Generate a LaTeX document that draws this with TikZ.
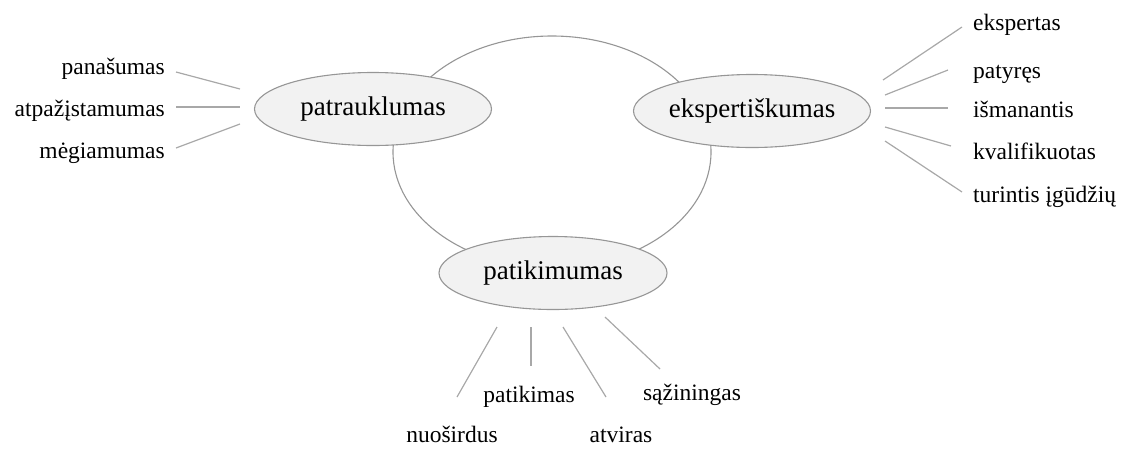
\documentclass[tikz,border=0pt]{standalone}
\usepackage{fontspec}
\setmainfont{Liberation Serif}
\usepackage{tikz}
\usetikzlibrary{shapes.geometric}

\definecolor{nodefill}{RGB}{242,242,242}
\definecolor{nodeline}{RGB}{150,150,150}
\definecolor{spokeline}{RGB}{168,168,168}

\begin{document}
\begin{tikzpicture}[
  x=1pt, y=-1pt,
  concept/.style={ellipse, draw=nodeline, fill=nodefill, line width=1.1pt,
    minimum width=237pt, minimum height=73pt, inner sep=0pt,
    font=\fontsize{27}{32}\selectfont},
  ring/.style={ellipse, draw=nodeline, line width=1.1pt,
    minimum width=318pt, minimum height=232pt, inner sep=0pt},
  trait/.style={inner sep=0pt, font=\fontsize{23.5}{28}\selectfont},
  spoke/.style={draw=spokeline, line width=1.2pt}
]
  \useasboundingbox (0,0) rectangle (1126,448);

  % Ring joining the three concepts
  \node[ring] (ring) at (552,152) {};

  % Concepts
  \node[concept] (patr) at (373,109) {patrauklumas};
  \node[concept] (eksp) at (752,111) {ekspertiškumas};
  \node[concept, minimum width=228pt] (pati) at (553,273) {patikimumas};

  % Traits of patrauklumas
  \node[trait, anchor=base east] (pan) at (165,74) {panašumas};
  \node[trait, anchor=base east] (atp) at (165,116) {atpažįstamumas};
  \node[trait, anchor=base east] (meg) at (165,158) {mėgiamumas};
  \coordinate (pan-a) at (176,72);  \coordinate (pan-b) at (240,89);
  \coordinate (atp-a) at (176,107); \coordinate (atp-b) at (240,107);
  \coordinate (meg-a) at (176,148); \coordinate (meg-b) at (240,124);
  \draw[spoke] (pan-a) -- (pan-b);
  \draw[spoke] (atp-a) -- (atp-b);
  \draw[spoke] (meg-a) -- (meg-b);

  % Traits of ekspertiskumas
  \node[trait, anchor=base west] (eks) at (973,30) {ekspertas};
  \node[trait, anchor=base west] (pat) at (973,78) {patyręs};
  \node[trait, anchor=base west] (ism) at (973,117) {išmanantis};
  \node[trait, anchor=base west] (kva) at (973,159) {kvalifikuotas};
  \node[trait, anchor=base west] (tur) at (973,202) {turintis įgūdžių};
  \coordinate (eks-a) at (883,80);  \coordinate (eks-b) at (962,27);
  \coordinate (pat-a) at (885,95);  \coordinate (pat-b) at (948,70);
  \coordinate (ism-a) at (885,108); \coordinate (ism-b) at (948,108);
  \coordinate (kva-a) at (885,127); \coordinate (kva-b) at (951,146);
  \coordinate (tur-a) at (885,141); \coordinate (tur-b) at (962,192);
  \draw[spoke] (eks-a) -- (eks-b);
  \draw[spoke] (pat-a) -- (pat-b);
  \draw[spoke] (ism-a) -- (ism-b);
  \draw[spoke] (kva-a) -- (kva-b);
  \draw[spoke] (tur-a) -- (tur-b);

  % Traits of patikimumas
  \node[trait, anchor=base] (nuo) at (452,442) {nuoširdus};
  \node[trait, anchor=base] (ptk) at (529,402) {patikimas};
  \node[trait, anchor=base] (atv) at (621,442) {atviras};
  \node[trait, anchor=base] (saz) at (692,400) {sąžiningas};
  \coordinate (nuo-a) at (497,327); \coordinate (nuo-b) at (457,397);
  \coordinate (ptk-a) at (531,327); \coordinate (ptk-b) at (531,366);
  \coordinate (atv-a) at (563,327); \coordinate (atv-b) at (606,397);
  \coordinate (saz-a) at (605,317); \coordinate (saz-b) at (660,369);
  \draw[spoke] (nuo-a) -- (nuo-b);
  \draw[spoke] (ptk-a) -- (ptk-b);
  \draw[spoke] (atv-a) -- (atv-b);
  \draw[spoke] (saz-a) -- (saz-b);

\end{tikzpicture}
\end{document}
